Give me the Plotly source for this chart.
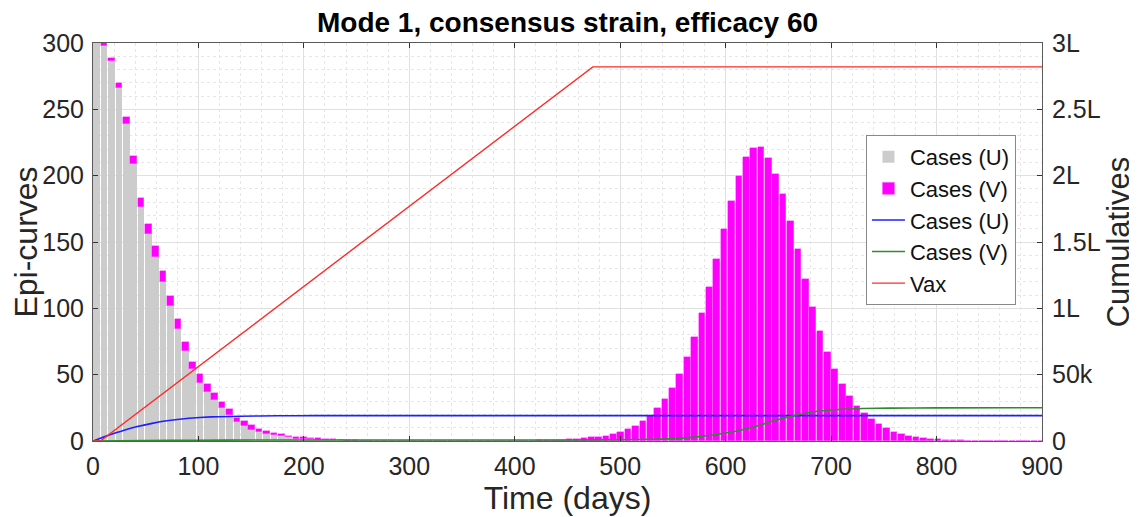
import plotly.graph_objects as go

# ---- data ----
week_index = list(range(0, 129))
bin_days = 7
bar_days = [3.5 + bin_days * i for i in week_index]

cases_u_first = [303, 298, 286.4, 265.9, 238.7, 208.6, 176.6, 156, 138.9, 120.1,
                 101.8, 84.2, 68.1, 54.0, 43.9, 37.2, 30.9, 24.6, 19.6, 14.6,
                 11.5, 8.6, 7.0, 5.5, 4.4, 3.5, 2.7, 1.8, 1.5, 1.3,
                 1.0, 0.8, 0.6, 0.45, 0.35, 0.25, 0.18, 0.12]
cases_v_first = [3, 2.5, 2.5, 4.2, 5.8, 6.2, 6.8, 7.3, 8.1, 8.3,
                 7.7, 7.5, 6.8, 5.8, 6.6, 5.5, 5.1, 5.0, 4.3, 3.0,
                 3.6, 3.2, 2.3, 2.1, 2.0, 1.6, 1.4, 1.5, 1.3, 1.0,
                 0.9, 0.7, 0.6, 0.45, 0.35, 0.25, 0.17, 0.13]
cases_v_second = [0.4, 0.6, 0.8, 1.0, 1.3, 1.7, 2.3, 2.8, 3.3, 4.0,
                  5.3, 6.8, 9.0, 11.5, 15.1, 18.8, 24.6, 31.7, 39.9, 50.3,
                  63.1, 78.6, 96.5, 116.3, 137.2, 159.8, 180.9, 199.8, 214.3, 221,
                  221.5, 213, 201, 186, 166, 145, 122, 101.2, 83.1, 67.3,
                  54.0, 43.0, 33.9, 26.4, 20.9, 16.8, 12.7, 9.5, 7.0, 5.3,
                  4.0, 3.0, 2.2, 1.6, 1.2, 0.9, 0.6, 0.45, 0.3]
second_start = 60

cases_u = cases_u_first + [0] * (len(week_index) - len(cases_u_first))
cases_v = cases_v_first + [0] * (second_start - len(cases_v_first)) + cases_v_second
cases_v = cases_v + [0] * (len(week_index) - len(cases_v))

cum_u_days = [0, 7, 14, 21, 28, 42, 56, 70, 91, 112, 140, 175, 210, 300, 900]
cum_u_vals = [0, 2100, 4100, 6000, 7800, 10900, 13300, 15200, 17100, 18200,
              18700, 19000, 19100, 19100, 19100]

cum_v_days = [0, 50, 100, 150, 200, 300, 450, 500, 530, 556, 575, 588, 600, 620,
              635, 645, 664, 683, 692, 714, 730, 756, 800, 900]
cum_v_vals = [0, 350, 600, 700, 750, 780, 800, 950, 1300, 2000, 3300, 4500, 6000, 9300,
              12500, 15000, 19000, 22000, 22800, 24100, 24500, 24800, 25000, 25100]

vax_days = [0, 7, 474, 900]
vax_vals = [0, 0, 282000, 282000]

y2_tickvals = [0, 50000, 100000, 150000, 200000, 250000, 300000]
y2_ticktext = ["0", "50k", "1L", "1.5L", "2L", "2.5L", "3L"]

# ---- figure ----
FONT = "Liberation Sans, Arial, sans-serif"
fig = go.Figure()
fig.add_trace(go.Bar(x=bar_days, y=cases_u, name="Cases (U)", width=6.3,
                     marker=dict(color="#CCCCCC", line=dict(width=0))))
fig.add_trace(go.Bar(x=bar_days, y=cases_v, name="Cases (V)", width=6.3,
                     marker=dict(color="#FF00FF", line=dict(width=0.6, color="#FF66FF"))))
fig.add_trace(go.Scatter(x=cum_u_days, y=cum_u_vals, name="Cases (U)", yaxis="y2",
                         mode="lines", line=dict(color="#2020FF", width=1.6, shape="spline", smoothing=0.6)))
fig.add_trace(go.Scatter(x=cum_v_days, y=cum_v_vals, name="Cases (V)", yaxis="y2",
                         mode="lines", line=dict(color="#2E8B2E", width=1.6, shape="spline", smoothing=0.6)))
fig.add_trace(go.Scatter(x=vax_days, y=vax_vals, name="Vax", yaxis="y2",
                         mode="lines", line=dict(color="#FF2A2A", width=1.4)))

axis_common = dict(showline=True, linecolor="#5A5A5A", linewidth=1, ticks="inside",
                   ticklen=5, tickcolor="#333333", zeroline=False, automargin=False,
                   tickfont=dict(family=FONT, size=25, color="#262626"))
title_font = dict(family=FONT, size=31, color="#262626")

fig.update_layout(
    width=1137, height=517,
    margin=dict(l=85, r=103, t=35, b=84),
    paper_bgcolor="white", plot_bgcolor="white",
    barmode="stack", bargap=0,
    title=dict(text="<b>Mode 1, consensus strain, efficacy 60</b>", xref="paper", x=0.5,
               xanchor="center", y=0.972, yanchor="middle",
               font=dict(family=FONT, size=28, color="black")),
    xaxis=dict(range=[0, 900], tickvals=[0, 100, 200, 300, 400, 500, 600, 700, 800, 900],
               showgrid=True, gridcolor="#E0E0E0", gridwidth=1, mirror="ticks",
               minor=dict(dtick=20, tick0=0, showgrid=True, gridcolor="#E6E6E6", griddash="dot"),
               title=dict(text="Time (days)", font=dict(family=FONT, size=32, color="#262626"), standoff=0),
               ticklabelstandoff=3,
               **axis_common),
    yaxis=dict(range=[0, 300], tickvals=[0, 50, 100, 150, 200, 250, 300],
               showgrid=True, gridcolor="#E0E0E0", gridwidth=1, mirror=True,
               minor=dict(dtick=10, tick0=0, showgrid=True, gridcolor="#E6E6E6", griddash="dot"),
               title=dict(text="Epi-curves", font=dict(family=FONT, size=32, color="#262626"), standoff=0),
               ticklabelstandoff=3,
               **axis_common),
    yaxis2=dict(range=[0, 300000], tickvals=y2_tickvals, ticktext=y2_ticktext,
                overlaying="y", side="right", showgrid=False,
                title=dict(text="Cumulatives", font=title_font, standoff=0),
                ticklabelstandoff=4,
                **axis_common),
    legend=dict(x=0.8145, y=0.769, xanchor="left", yanchor="top", traceorder="normal",
                bgcolor="white", bordercolor="#888888", borderwidth=1,
                font=dict(family=FONT, size=22, color="#111111"), tracegroupgap=0,
                itemwidth=33),
    showlegend=True,
)

fig.write_html("out.html")
